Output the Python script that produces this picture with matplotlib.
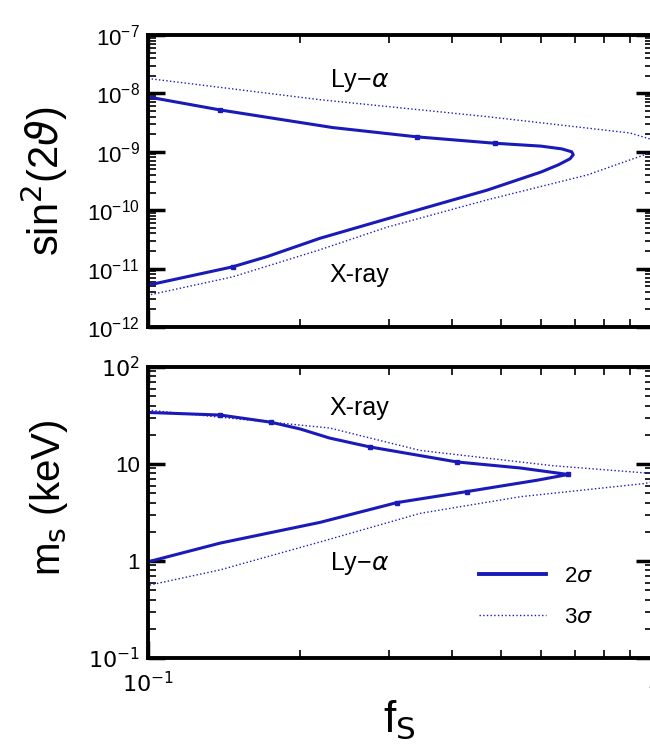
import matplotlib
matplotlib.use("Agg")
import matplotlib.pyplot as plt
import matplotlib.ticker as mticker
from matplotlib.lines import Line2D

plt.rcParams["font.family"] = ["Liberation Sans", "DejaVu Sans"]
plt.rcParams["mathtext.fontset"] = "dejavusans"

# top panel: sin^2(2 theta) vs f_s
f_top_2s = [0.1, 0.139, 0.232, 0.341, 0.486, 0.600, 0.660, 0.690, 0.695, 0.685, 0.650,
            0.600, 0.469, 0.341, 0.219, 0.172, 0.147, 0.1]
s_top_2s = [8.7e-9, 5.2e-9, 2.6e-9, 1.8e-9, 1.4e-9, 1.25e-9, 1.12e-9, 1.0e-9, 8.9e-10,
            7.6e-10, 6.0e-10, 4.5e-10, 2.2e-10, 1.0e-10, 3.3e-11, 1.6e-11, 1.07e-11, 5.2e-12]
f_top_3s = [0.1, 0.219, 0.469, 0.90, 1.0, 1.0, 0.74, 0.469, 0.297, 0.219, 0.147, 0.1]
s_top_3s = [1.8e-8, 7.8e-9, 4.0e-9, 2.1e-9, 1.6e-9, 1.0e-9, 4.0e-10, 1.5e-10, 5.1e-11,
            2.1e-11, 7.2e-12, 3.5e-12]

# bottom panel: m_s (keV) vs f_s
f_bot_2s = [0.1, 0.139, 0.175, 0.2, 0.229, 0.275, 0.409, 0.546, 0.679, 0.589, 0.428, 0.311,
            0.219, 0.139, 0.1]
m_bot_2s = [34, 32, 27, 23.0, 18.5, 15, 10.5, 9.1, 7.8, 6.8, 5.2, 4.0, 2.5, 1.53, 0.98]
f_bot_3s = [0.1, 0.229, 0.346, 0.634, 0.964, 1.0, 1.0, 0.964, 0.546, 0.346, 0.219, 0.139, 0.1]
m_bot_3s = [36, 23.5, 13.8, 9.6, 8.1, 7.9, 6.6, 6.3, 4.6, 3.1, 1.57, 0.81, 0.56]

blue = "#1a1ab8"

fig = plt.figure(figsize=(6.5, 7.46), dpi=100)
ax1 = fig.add_axes([0.2277, 0.5617, 0.777, 0.3914])
ax2 = fig.add_axes([0.2277, 0.118, 0.777, 0.390])

for ax in (ax1, ax2):
    ax.set_xscale("log")
    ax.set_yscale("log")
    ax.set_xlim(0.1, 1)
    for s in ax.spines.values():
        s.set_linewidth(2.8)
    ax.tick_params(which="both", direction="in", top=True, right=True)
    ax.tick_params(which="major", length=12, width=2.5, labelsize=16, pad=6)
    ax.tick_params(which="minor", length=6, width=1.2)
    ax.xaxis.set_minor_locator(mticker.LogLocator(base=10, subs=range(2, 10)))
    ax.yaxis.set_minor_locator(mticker.LogLocator(base=10, subs=range(2, 10), numticks=20))

# top panel
ax1.plot(f_top_2s, s_top_2s, color=blue, lw=2.2, marker="s", ms=2.5, markevery=[1, 3, 4, 16])
ax1.plot(f_top_3s, s_top_3s, color=blue, lw=1.0, ls=":")
ax1.set_ylim(1e-12, 1e-7)
ax1.yaxis.set_major_locator(mticker.LogLocator(base=10, numticks=10))
ax1.set_xticklabels([], minor=True)
ax1.xaxis.set_major_formatter(mticker.NullFormatter())
ax1.text(0.229, 1.3e-8, "Ly\u2212$\\alpha$", fontsize=18)
ax1.text(0.229, 6.0e-12, "X-ray", fontsize=18)

# bottom panel
ax2.plot(f_bot_2s, m_bot_2s, color=blue, lw=2.2, marker="s", ms=2.5,
         markevery=[1, 2, 5, 6, 8, 10, 11])
ax2.plot(f_bot_3s, m_bot_3s, color=blue, lw=1.0, ls=":")
ax2.set_ylim(0.1, 100)
ax2.set_xticks([0.1, 1])
ax2.set_xticklabels(["$10^{-1}$", "1"])
ax2.set_xticklabels([], minor=True)
ax2.set_yticks([0.1, 1, 10, 100])
ax2.set_yticklabels(["$10^{-1}$", "1", "10", "$10^2$"])
ax2.tick_params(axis="x", which="major", pad=10)
ax2.text(0.229, 50, "X-ray", fontsize=18, va="top")
ax2.text(0.229, 1.3, "Ly\u2212$\\alpha$", fontsize=18, va="top")
handles = [Line2D([], [], color=blue, lw=2.8), Line2D([], [], color=blue, lw=1.0, ls=":")]
ax2.legend(handles, ["2$\\sigma$", "3$\\sigma$"], loc="lower right", bbox_to_anchor=(0.92, 0.035),
           frameon=False, fontsize=16, handlelength=3.0, labelspacing=0.9, handletextpad=0.8)

fig.text(0.068, 0.757, "sin$^2$(2$\\vartheta$)", rotation=90, fontsize=30, ha="center", va="center")
fig.text(0.075, 0.333, "m$_\\mathrm{s}$ (keV)", rotation=90, fontsize=29, ha="center", va="center")
fig.text(0.615, 0.035, "f$_\\mathrm{S}$", fontsize=32, ha="center", va="center")

fig.savefig("out.png", dpi=100)
